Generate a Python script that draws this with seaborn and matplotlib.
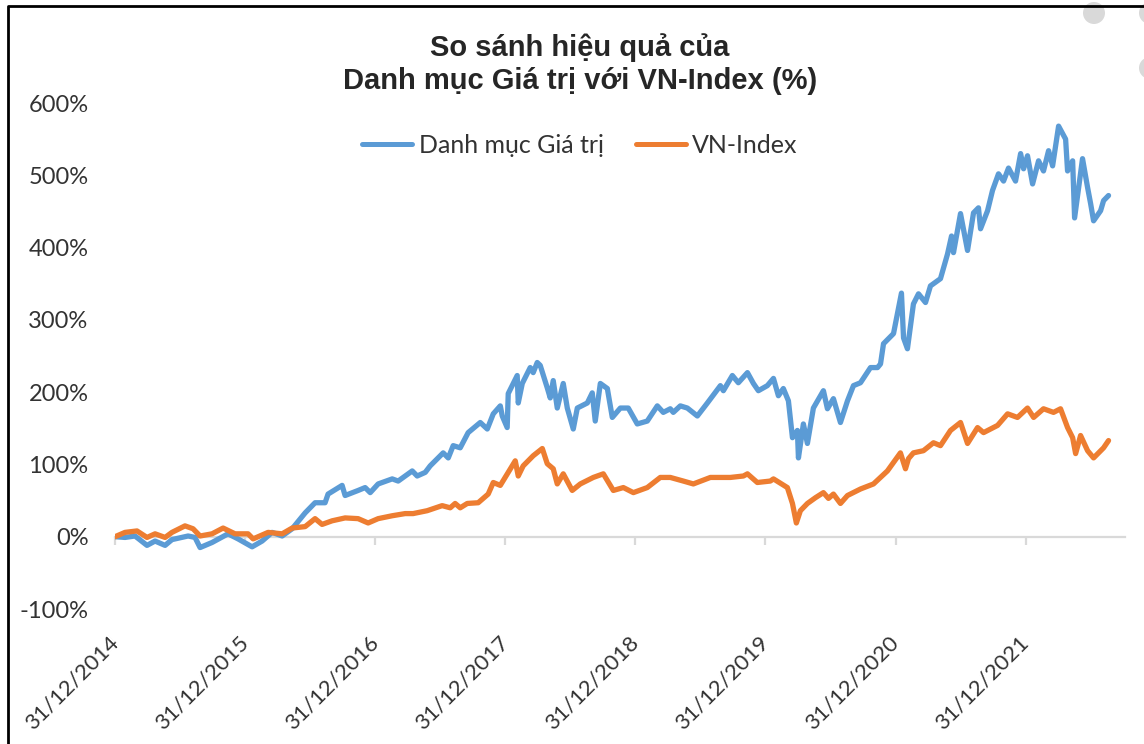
import pandas as pd
import numpy as np
import matplotlib
matplotlib.use('Agg')
import matplotlib.pyplot as plt
import matplotlib.dates as mdates
from matplotlib.patches import Ellipse
from matplotlib.lines import Line2D
import seaborn as sns

# time in decimal years (2015.0 = 31/12/2014), values in %
gia_tri_t = [2015.000, 2015.077, 2015.154, 2015.246, 2015.308, 2015.385, 2015.438, 2015.562, 2015.615, 2015.654,
             2015.746, 2015.869, 2015.946, 2016.054, 2016.131, 2016.208, 2016.285, 2016.362, 2016.462, 2016.538,
             2016.615, 2016.638, 2016.746, 2016.769, 2016.869, 2016.923, 2016.962, 2017.023, 2017.131, 2017.177,
             2017.231, 2017.285, 2017.323, 2017.385, 2017.423, 2017.523, 2017.562, 2017.600, 2017.654, 2017.715,
             2017.808, 2017.862, 2017.908, 2017.962, 2017.977, 2018.015, 2018.023, 2018.092, 2018.100, 2018.131,
             2018.192, 2018.215, 2018.246, 2018.269, 2018.323, 2018.346, 2018.369, 2018.400, 2018.446, 2018.477,
             2018.523, 2018.554, 2018.631, 2018.669, 2018.692, 2018.731, 2018.785, 2018.823, 2018.885, 2018.946,
             2019.015, 2019.092, 2019.169, 2019.215, 2019.269, 2019.292, 2019.346, 2019.400, 2019.477, 2019.554,
             2019.654, 2019.677, 2019.746, 2019.792, 2019.862, 2019.908, 2019.946, 2020.015, 2020.062, 2020.100,
             2020.138, 2020.177, 2020.208, 2020.246, 2020.254, 2020.292, 2020.323, 2020.369, 2020.446, 2020.477,
             2020.523, 2020.577, 2020.631, 2020.677, 2020.731, 2020.808, 2020.862, 2020.885, 2020.908, 2020.985,
             2021.046, 2021.062, 2021.092, 2021.138, 2021.177, 2021.231, 2021.269, 2021.346, 2021.400, 2021.431,
             2021.446, 2021.500, 2021.554, 2021.600, 2021.638, 2021.654, 2021.708, 2021.746, 2021.792, 2021.831,
             2021.869, 2021.923, 2021.962, 2021.985, 2022.015, 2022.054, 2022.100, 2022.138, 2022.177, 2022.208,
             2022.254, 2022.308, 2022.323, 2022.362, 2022.377, 2022.438, 2022.477, 2022.500, 2022.523, 2022.577,
             2022.600, 2022.638]
gia_tri_pct = [0, -1, 1, -12, -6, -12, -4, 1, -1, -15,
               -8, 4, -3, -14, -6, 6, 1, 11, 33, 47,
               47, 59, 71, 57, 64, 68, 61, 73, 80, 77,
               84, 91, 84, 89, 98, 116, 109, 126, 123, 144,
               158, 149, 170, 181, 167, 151, 198, 223, 185, 212,
               234, 227, 241, 237, 206, 192, 216, 178, 212, 178,
               149, 178, 185, 199, 160, 212, 205, 165, 178, 178,
               156, 160, 181, 172, 177, 172, 181, 178, 167, 185,
               209, 202, 223, 213, 227, 212, 202, 209, 219, 195,
               205, 188, 137, 147, 109, 156, 129, 178, 202, 177,
               191, 158, 188, 209, 213, 234, 234, 239, 267, 281,
               337, 275, 260, 322, 336, 324, 347, 357, 391, 416,
               393, 447, 396, 448, 455, 426, 451, 479, 502, 492,
               510, 492, 530, 509, 527, 488, 520, 506, 534, 513,
               568, 550, 506, 520, 441, 523, 483, 461, 437, 451,
               465, 472]

vn_t = [2015.000, 2015.077, 2015.169, 2015.246, 2015.308, 2015.385, 2015.438, 2015.538, 2015.600, 2015.654,
        2015.746, 2015.831, 2015.923, 2016.023, 2016.062, 2016.177, 2016.285, 2016.362, 2016.462, 2016.538,
        2016.592, 2016.669, 2016.769, 2016.869, 2016.946, 2017.023, 2017.131, 2017.231, 2017.292, 2017.400,
        2017.515, 2017.577, 2017.615, 2017.654, 2017.708, 2017.792, 2017.869, 2017.908, 2017.962, 2018.023,
        2018.077, 2018.100, 2018.138, 2018.215, 2018.285, 2018.323, 2018.369, 2018.400, 2018.446, 2018.515,
        2018.577, 2018.677, 2018.754, 2018.831, 2018.908, 2018.985, 2019.092, 2019.192, 2019.269, 2019.369,
        2019.446, 2019.577, 2019.731, 2019.831, 2019.862, 2019.938, 2020.038, 2020.062, 2020.169, 2020.208,
        2020.238, 2020.269, 2020.323, 2020.385, 2020.446, 2020.485, 2020.523, 2020.577, 2020.631, 2020.731,
        2020.831, 2020.938, 2021.038, 2021.077, 2021.100, 2021.138, 2021.215, 2021.292, 2021.346, 2021.423,
        2021.500, 2021.554, 2021.631, 2021.677, 2021.785, 2021.862, 2021.938, 2022.015, 2022.062, 2022.138,
        2022.215, 2022.269, 2022.323, 2022.362, 2022.385, 2022.423, 2022.477, 2022.523, 2022.600, 2022.638]
vn_pct = [0, 6, 8, -1, 4, -1, 6, 15, 11, 1,
          4, 12, 4, 4, -3, 6, 4, 12, 14, 25,
          17, 22, 26, 25, 19, 25, 29, 32, 32, 36,
          43, 40, 46, 40, 46, 47, 59, 75, 71, 89,
          105, 84, 98, 112, 122, 101, 94, 73, 87, 64,
          73, 82, 87, 64, 68, 61, 68, 82, 82, 77,
          73, 82, 82, 84, 87, 75, 77, 80, 68, 46,
          19, 36, 46, 54, 61, 53, 59, 46, 57, 66,
          73, 91, 116, 94, 108, 116, 119, 130, 126, 147,
          158, 129, 151, 144, 154, 170, 165, 178, 165, 177,
          172, 177, 151, 137, 115, 140, 119, 109, 123, 133]

series_names = ['Danh mục Giá trị', 'VN-Index']
series_colors = ['#5B9BD5', '#ED7D31']
tick_years = [2014, 2015, 2016, 2017, 2018, 2019, 2020, 2021]
tick_labels = ['31/12/%d' % y for y in tick_years]
y_ticks = [-100, 0, 100, 200, 300, 400, 500, 600]
title = 'So sánh hiệu quả của\nDanh mục Giá trị với VN-Index (%)'


def to_date(t):
    return pd.Timestamp('2014-12-31') + pd.to_timedelta((np.array(t) - 2015.0) * 365.25, unit='D')


df = pd.concat([
    pd.DataFrame({'date': to_date(gia_tri_t), 'pct': gia_tri_pct, 'series': series_names[0]}),
    pd.DataFrame({'date': to_date(vn_t), 'pct': vn_pct, 'series': series_names[1]}),
], ignore_index=True)

sns.set_style('white')
plt.rcParams['font.family'] = ['Lato', 'DejaVu Sans']
text_col = '#333333'
grey = '#D9D9D9'

fig = plt.figure(figsize=(11.44, 7.44), dpi=100)
ax = fig.add_axes([115 / 1144, 1 - 609 / 744, 1010 / 1144, 506 / 744])

sns.lineplot(data=df, x='date', y='pct', hue='series', hue_order=series_names,
             palette=series_colors, linewidth=3.8, estimator=None, sort=False,
             legend=False, ax=ax)

tick_dates = [pd.Timestamp('%d-12-31' % y) for y in tick_years]
ax.set_xlim(pd.Timestamp('2014-12-31'), pd.Timestamp('2022-10-06'))
ax.set_ylim(-100, 600)
ax.set_yticks(y_ticks, ['%d%%' % v for v in y_ticks])
ax.set_xticks(tick_dates)
ax.set_xlabel('')
ax.set_ylabel('')

for s in ['top', 'right', 'left']:
    ax.spines[s].set_visible(False)
ax.spines['bottom'].set_position(('data', 0))
ax.spines['bottom'].set_color(grey)
ax.spines['bottom'].set_linewidth(1.6)
ax.spines['bottom'].set_zorder(1)
ax.tick_params(axis='x', labelbottom=False, bottom=True, direction='out',
               length=6, width=1.6, color=grey)
ax.tick_params(axis='y', length=0, pad=19, labelsize=17, labelcolor=text_col)

# date labels sit under the plot area, not on the zero line
secax = ax.secondary_xaxis(0)
secax.set_xticks(mdates.date2num(tick_dates), labels=tick_labels)
secax.spines['bottom'].set_visible(False)
secax.tick_params(length=0, pad=22, labelsize=16, labelcolor=text_col)
plt.setp(secax.get_xticklabels(), rotation=45, ha='right', va='center', rotation_mode='anchor')

handles = [Line2D([0], [0], color=c, lw=3.6) for c in series_colors]
fig.legend(handles, series_names, loc='center', bbox_to_anchor=(0.507, 0.805), ncol=2,
           frameon=False, fontsize=18, handlelength=2.0, handletextpad=0.25,
           columnspacing=1.3, labelcolor=text_col)

fig.text(0.507, 0.914, title, ha='center', va='center', fontsize=21, fontweight='bold',
         family=['Liberation Sans', 'DejaVu Sans'], color='#262626', linespacing=1.25)

# frame edge and grey dots from the screenshot
fig.add_artist(Line2D([7.5 / 1144, 7.5 / 1144, 1.0], [0, 1 - 6 / 744, 1 - 6 / 744],
                      transform=fig.transFigure, color='black', lw=2))
for cx, cy in [(1094, 13), (1150, 13), (1150, 68)]:
    fig.add_artist(Ellipse((cx / 1144, 1 - cy / 744), 22 / 1144, 22 / 744,
                           transform=fig.transFigure, color=grey, lw=0))

fig.savefig('out.png', dpi=100)
plt.close(fig)
